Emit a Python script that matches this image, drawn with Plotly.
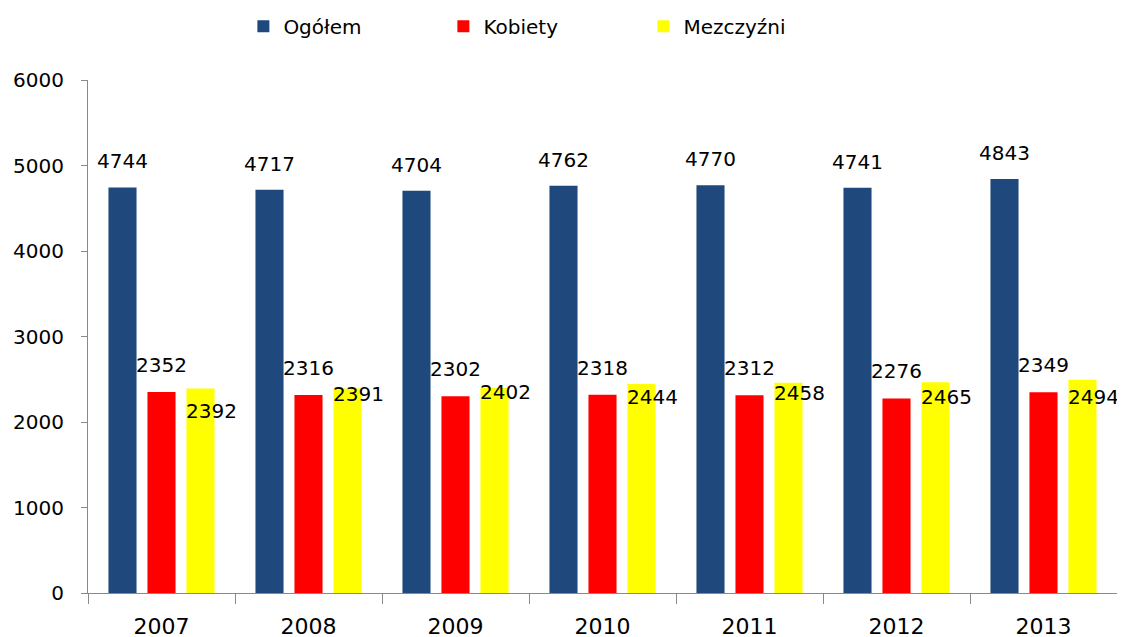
import plotly.graph_objects as go

years = ["2007", "2008", "2009", "2010", "2011", "2012", "2013"]
ogolem = [4744, 4717, 4704, 4762, 4770, 4741, 4843]
kobiety = [2352, 2316, 2302, 2318, 2312, 2276, 2349]
mezczyzni = [2392, 2391, 2402, 2444, 2458, 2465, 2494]
y_ticks = [0, 1000, 2000, 3000, 4000, 5000, 6000]

# label vertical offsets (px) for the yellow series, as placed in the original
yellow_label_drop = [23, 5, 4, 13, 10, 15, 17]

FONT = "DejaVu Sans"
series = [
    ("Ogółem", ogolem, "#1F497D"),
    ("Kobiety", kobiety, "#FF0000"),
    ("Mezczyźni", mezczyzni, "#FFFF00"),
]

fig = go.Figure()
for name, vals, col in series:
    fig.add_trace(go.Bar(name=name, x=years, y=vals, marker_color=col,
                         marker_line_width=0, hoverinfo="skip"))

ann = []
for i, yr in enumerate(years):
    ann.append(dict(x=i, y=ogolem[i], text=str(ogolem[i]), xref="x", yref="y",
                    showarrow=False, xshift=-39, yshift=26, yanchor="middle",
                    font=dict(family=FONT, size=20, color="#000")))
    ann.append(dict(x=i, y=kobiety[i], text=str(kobiety[i]), xref="x", yref="y",
                    showarrow=False, xshift=0, yshift=27, yanchor="middle",
                    font=dict(family=FONT, size=20, color="#000")))
    ann.append(dict(x=i, y=mezczyzni[i], text=str(mezczyzni[i]), xref="x", yref="y",
                    showarrow=False, xshift=50, yshift=-yellow_label_drop[i], yanchor="middle",
                    font=dict(family=FONT, size=20, color="#000")))

fig.update_layout(
    width=1125, height=637,
    margin=dict(l=80, r=16, t=72, b=52, autoexpand=False),
    paper_bgcolor="white", plot_bgcolor="white",
    barmode="group", bargap=0.204, bargroupgap=0.28,
    showlegend=True,
    legend=dict(orientation="h", x=0.151, xanchor="left", y=1.143, yanchor="top",
                font=dict(family=FONT, size=20, color="#000"),
                entrywidth=155, entrywidthmode="pixels", itemclick=False),
    annotations=ann,
    xaxis=dict(type="category", range=[-0.5, 6.5], showline=True, linecolor="#898989",
               linewidth=1, ticks="outside", ticklen=10, tickcolor="#898989",
               tickson="boundaries",
               tickfont=dict(family=FONT, size=22, color="#000"), showgrid=False,
               tickangle=0, ticklabelstandoff=14),
    yaxis=dict(range=[0, 6000], tickvals=y_ticks, showline=True, linecolor="#898989",
               linewidth=1, ticks="outside", ticklen=6, tickcolor="#898989",
               tickfont=dict(family=FONT, size=20, color="#000"), showgrid=False,
               zeroline=False, ticklabelstandoff=13),
)

fig.write_html("out.html")
